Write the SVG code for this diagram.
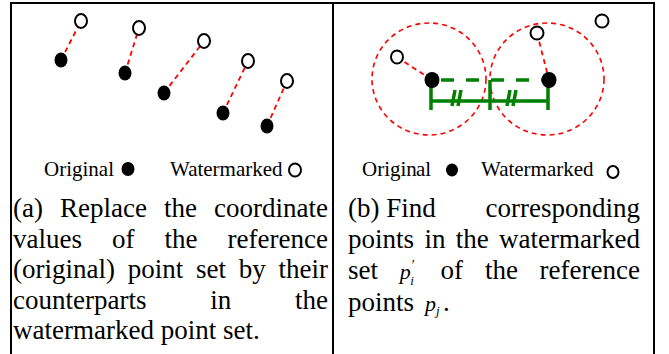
<svg xmlns="http://www.w3.org/2000/svg" width="669" height="354" viewBox="0 0 669 354">
<style>
.t{font-family:"Liberation Serif","Times New Roman",serif;fill:#000}
.cap{font-size:27px}
.leg{font-size:21px}
.m{font-family:"Liberation Serif","Times New Roman",serif;font-style:italic;font-size:22px}
.red{stroke:#ff0000;stroke-width:1.8;stroke-dasharray:5 4;fill:none}
.circ{stroke:#ff0000;stroke-width:1.6;stroke-dasharray:5 4;fill:none}
.fill{fill:#000}
.open{fill:#fff;stroke:#000;stroke-width:2}
.g{stroke:#008000;stroke-width:3.5;fill:none}
.gd{stroke:#008000;stroke-width:3.5;stroke-dasharray:13 12;fill:none}
.frame{stroke:#000;stroke-width:2;fill:none}
</style>
<g id="frame">
<path class="frame" d="M10 3H655M11 3V354M333 3V354M654 3V354"/>
</g>
<g id="connectors">
<line class="red" x1="61" y1="60" x2="81" y2="21"/>
<line class="red" x1="125" y1="73" x2="139" y2="28"/>
<line class="red" x1="164" y1="93" x2="204" y2="41"/>
<line class="red" x1="223" y1="113" x2="248" y2="61"/>
<line class="red" x1="267" y1="126" x2="287" y2="81"/>
<ellipse class="circ" cx="429" cy="79" rx="57" ry="56"/>
<ellipse class="circ" cx="547" cy="79" rx="57" ry="56"/>
<line class="red" x1="397" y1="57" x2="432" y2="80"/>
<line class="red" x1="537" y1="33" x2="549" y2="80"/>
<line class="gd" x1="437" y1="80" x2="545" y2="80" stroke-dashoffset="-4"/>
<path class="g" d="M431 80V110M490 80V110M548 80V110M431 101H548"/>
<path class="g" stroke-width="3" d="M452 106L455 90M458 106L461 90M507 106L510 90M513 106L516 90"/>
</g>
<g id="left-points">
<ellipse class="fill" cx="61" cy="60" rx="6.5" ry="7.5"/>
<ellipse class="fill" cx="125" cy="73" rx="6.5" ry="7.5"/>
<ellipse class="fill" cx="164" cy="93" rx="6.5" ry="7.5"/>
<ellipse class="fill" cx="223" cy="113" rx="6.5" ry="7.5"/>
<ellipse class="fill" cx="267" cy="126" rx="6.5" ry="7.5"/>
<ellipse class="open" cx="81" cy="21" rx="6" ry="7"/>
<ellipse class="open" cx="139" cy="28" rx="6" ry="7"/>
<ellipse class="open" cx="204" cy="41" rx="6" ry="7"/>
<ellipse class="open" cx="248" cy="61" rx="6" ry="7"/>
<ellipse class="open" cx="287" cy="81" rx="6" ry="7"/>
</g>
<g id="right-points">
<ellipse class="fill" cx="432" cy="80" rx="7.5" ry="8"/>
<ellipse class="fill" cx="549" cy="80" rx="7.5" ry="8"/>
<ellipse class="open" cx="397" cy="57" rx="6" ry="6.5"/>
<ellipse class="open" cx="537" cy="33" rx="6.5" ry="6.5"/>
<ellipse class="open" cx="602" cy="21" rx="6.5" ry="6.5"/>
</g>
<g id="legend-a">
<text class="t leg" x="44" y="176">Original</text>
<ellipse class="fill" cx="128" cy="169" rx="6.5" ry="7"/>
<text class="t leg" x="170" y="176">Watermarked</text>
<ellipse class="open" cx="295" cy="170" rx="6" ry="6.5"/>
</g>
<g id="legend-b">
<text class="t leg" x="362" y="176">Origin<tspan x="416">al</tspan></text>
<ellipse class="fill" cx="452" cy="170" rx="6" ry="6.5"/>
<text class="t leg" x="481" y="176">Watermarked</text>
<ellipse class="open" cx="613" cy="172" rx="5.5" ry="6"/>
</g>
<g id="caption-a">
<text class="t cap" y="217"><tspan x="13">(a)</tspan><tspan x="60">Replace</tspan><tspan x="164">the</tspan><tspan x="214">coordinate</tspan></text>
<text class="t cap" y="247.5"><tspan x="13">values</tspan><tspan x="112">of</tspan><tspan x="164.5">the</tspan><tspan x="227.6">reference</tspan></text>
<text class="t cap" y="278"><tspan x="13">(original)</tspan><tspan x="127.7">point</tspan><tspan x="196">set</tspan><tspan x="238.8">by</tspan><tspan x="278.5">their</tspan></text>
<text class="t cap" y="308.5"><tspan x="13">counterparts</tspan><tspan x="210.2">in</tspan><tspan x="295">the</tspan></text>
<text class="t cap" x="13" y="339">watermarked point set.</text>
</g>
<g id="caption-b">
<text class="t cap" y="217"><tspan x="348">(b)</tspan><tspan x="386.3">Find</tspan><tspan x="485.5">corresponding</tspan></text>
<text class="t cap" y="247.5"><tspan x="348">points</tspan><tspan x="424.4">in</tspan><tspan x="455.7">the</tspan><tspan x="499.1">watermarked</tspan></text>
<text class="t cap" x="348" y="279">set</text>
<text class="m" x="399.8" y="279">p<tspan font-size="14" font-style="normal" dx="1" dy="-9">′</tspan><tspan font-size="13" dx="-4.5" dy="15">i</tspan></text>
<text class="t cap" y="279"><tspan x="440.6">of</tspan><tspan x="484.9">the</tspan><tspan x="539.6">reference</tspan></text>
<text class="t cap" x="348" y="311">points</text>
<text class="m" x="425" y="311">p<tspan font-size="13" dy="4">j</tspan></text>
<text class="t cap" x="443" y="311">.</text>
</g>
</svg>
